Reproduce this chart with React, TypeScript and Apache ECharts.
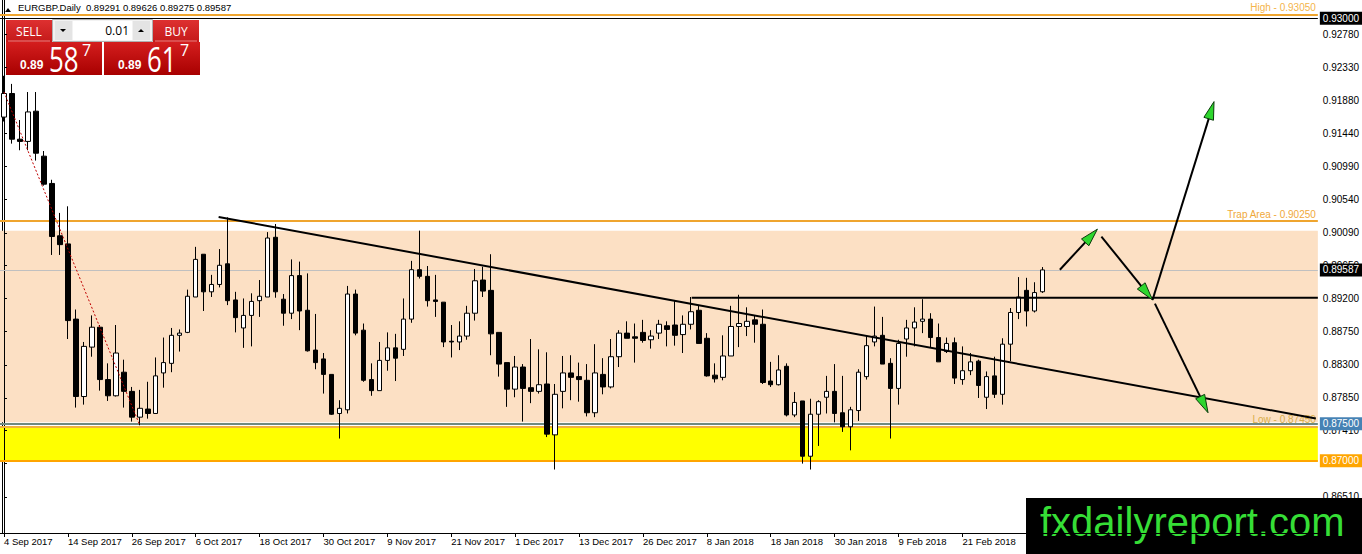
import { useEffect, useRef } from "react";
import * as echarts from "echarts";

// ---------- data ----------
const tickLabels = [
  "4 Sep 2017", "14 Sep 2017", "26 Sep 2017", "6 Oct 2017", "18 Oct 2017", "30 Oct 2017",
  "9 Nov 2017", "21 Nov 2017", "1 Dec 2017", "13 Dec 2017", "26 Dec 2017", "8 Jan 2018",
  "18 Jan 2018", "30 Jan 2018", "9 Feb 2018", "21 Feb 2018",
];
const BARS_PER_TICK = 8;
const TOTAL_SLOTS = 165; // daily slots incl. empty future space

const opens = [
  0.9166, 0.9198, 0.9136, 0.9133, 0.9174, 0.9113, 0.9076, 0.9005, 0.8994, 0.8892,
  0.8787, 0.8854, 0.8881, 0.8810, 0.8788, 0.8820, 0.8794, 0.8759, 0.8770, 0.8764,
  0.8819, 0.8832, 0.8870, 0.8874, 0.8922, 0.8980, 0.8929, 0.8939, 0.8967, 0.8918,
  0.8880, 0.8897, 0.8917, 0.8922, 0.9003, 0.8919, 0.8900, 0.8951, 0.8904, 0.8850,
  0.8838, 0.8817, 0.8764, 0.8769, 0.8926, 0.8877, 0.8810, 0.8795, 0.8836, 0.8853,
  0.8851, 0.8892, 0.8959, 0.8950, 0.8918, 0.8915, 0.8862, 0.8861, 0.8869, 0.8900,
  0.8945, 0.8931, 0.8874, 0.8833, 0.8797, 0.8827, 0.8799, 0.8794, 0.8804, 0.8735,
  0.8794, 0.8819, 0.8814, 0.8809, 0.8765, 0.8817, 0.8800, 0.8841, 0.8873, 0.8868,
  0.8874, 0.8864, 0.8873, 0.8883, 0.8884, 0.8871, 0.8885, 0.8904, 0.8866, 0.8816,
  0.8813, 0.8842, 0.8882, 0.8882, 0.8891, 0.8885, 0.8808, 0.8803, 0.8828, 0.8762,
  0.8781, 0.8706, 0.8763, 0.8786, 0.8794, 0.8765, 0.8746, 0.8768, 0.8814, 0.8861,
  0.8870, 0.8832, 0.8798, 0.8865, 0.8880, 0.8889, 0.8892, 0.8867, 0.8848, 0.8860,
  0.8810, 0.8822, 0.8835, 0.8786, 0.8815, 0.8790, 0.8858, 0.8901, 0.8931, 0.8903,
  0.89291,
];
const highs = [
  0.9222, 0.9211, 0.9162, 0.9200, 0.9200, 0.9120, 0.9081, 0.9036, 0.9045, 0.8905,
  0.8861, 0.8897, 0.8884, 0.8832, 0.8884, 0.8837, 0.8800, 0.8796, 0.8807, 0.8840,
  0.8867, 0.8880, 0.8878, 0.8932, 0.8990, 0.8980, 0.8952, 0.8987, 0.9030, 0.8929,
  0.8920, 0.8927, 0.8945, 0.9010, 0.9021, 0.8926, 0.8973, 0.8970, 0.8954, 0.8899,
  0.8846, 0.8817, 0.8782, 0.8937, 0.8932, 0.8886, 0.8832, 0.8861, 0.8874, 0.8872,
  0.8920, 0.8971, 0.9012, 0.8964, 0.8952, 0.8915, 0.8884, 0.8889, 0.8910, 0.8960,
  0.8963, 0.8980, 0.8874, 0.8833, 0.8842, 0.8831, 0.8865, 0.8851, 0.8847, 0.8804,
  0.8842, 0.8843, 0.8833, 0.8831, 0.8858, 0.8839, 0.8865, 0.8877, 0.8889, 0.8886,
  0.8891, 0.8877, 0.8891, 0.8889, 0.8917, 0.8897, 0.8922, 0.8910, 0.8873, 0.8832,
  0.8870, 0.8910, 0.8925, 0.8908, 0.8897, 0.8905, 0.8834, 0.8843, 0.8832, 0.8793,
  0.8781, 0.8784, 0.8782, 0.8815, 0.8831, 0.8815, 0.8773, 0.8824, 0.8870, 0.8909,
  0.8895, 0.8839, 0.8864, 0.8891, 0.8908, 0.8919, 0.8900, 0.8886, 0.8867, 0.8867,
  0.8855, 0.8846, 0.8837, 0.8821, 0.8841, 0.8866, 0.8907, 0.8949, 0.8948, 0.8942,
  0.89626,
];
const lows = [
  0.9160, 0.9130, 0.9121, 0.9121, 0.9107, 0.9073, 0.8979, 0.8979, 0.8865, 0.8772,
  0.8776, 0.8841, 0.8795, 0.8781, 0.8787, 0.8772, 0.8753, 0.8748, 0.8757, 0.8764,
  0.8799, 0.8820, 0.8848, 0.8873, 0.8922, 0.8903, 0.8922, 0.8935, 0.8911, 0.8874,
  0.8853, 0.8855, 0.8895, 0.8922, 0.8921, 0.8883, 0.8892, 0.8877, 0.8848, 0.8824,
  0.8791, 0.8762, 0.8730, 0.8764, 0.8870, 0.8807, 0.8788, 0.8795, 0.8822, 0.8808,
  0.8842, 0.8887, 0.8947, 0.8909, 0.8895, 0.8854, 0.8840, 0.8850, 0.8864, 0.8890,
  0.8922, 0.8843, 0.8814, 0.8773, 0.8786, 0.8753, 0.8778, 0.8791, 0.8732, 0.8688,
  0.8771, 0.8782, 0.8780, 0.8760, 0.8759, 0.8790, 0.8798, 0.8827, 0.8866, 0.8833,
  0.8860, 0.8852, 0.8865, 0.8855, 0.8856, 0.8846, 0.8878, 0.8859, 0.8814, 0.8806,
  0.8809, 0.8842, 0.8854, 0.8869, 0.8860, 0.8804, 0.8800, 0.8802, 0.8760, 0.8759,
  0.8696, 0.8688, 0.8720, 0.8764, 0.8752, 0.8739, 0.8714, 0.8754, 0.8810, 0.8855,
  0.8831, 0.8730, 0.8776, 0.8841, 0.8855, 0.8873, 0.8854, 0.8834, 0.8846, 0.8804,
  0.8803, 0.8816, 0.8785, 0.8770, 0.8785, 0.8776, 0.8835, 0.8892, 0.8882, 0.8901,
  0.89275,
];
const closes = [
  0.9198, 0.9136, 0.9133, 0.9173, 0.9117, 0.9075, 0.9004, 0.8993, 0.8890, 0.8787,
  0.8855, 0.8881, 0.8810, 0.8788, 0.8846, 0.8794, 0.8759, 0.8771, 0.8764, 0.8815,
  0.8833, 0.8870, 0.8873, 0.8923, 0.8973, 0.8929, 0.8939, 0.8965, 0.8917, 0.8894,
  0.8897, 0.8916, 0.8923, 0.9002, 0.8929, 0.8900, 0.8951, 0.8903, 0.8849, 0.8833,
  0.8817, 0.8763, 0.8771, 0.8926, 0.8873, 0.8809, 0.8795, 0.8836, 0.8853, 0.8839,
  0.8892, 0.8959, 0.8950, 0.8917, 0.8916, 0.8861, 0.8861, 0.8869, 0.8900, 0.8944,
  0.8930, 0.8872, 0.8831, 0.8797, 0.8827, 0.8798, 0.8794, 0.8803, 0.8736, 0.8790,
  0.8819, 0.8813, 0.8810, 0.8765, 0.8819, 0.8800, 0.8841, 0.8873, 0.8866, 0.8866,
  0.8863, 0.8869, 0.8885, 0.8878, 0.8870, 0.8885, 0.8902, 0.8859, 0.8815, 0.8811,
  0.8842, 0.8882, 0.8886, 0.8889, 0.8885, 0.8806, 0.8803, 0.8823, 0.8762, 0.8779,
  0.8706, 0.8763, 0.8780, 0.8794, 0.8764, 0.8746, 0.8769, 0.8820, 0.8856, 0.8869,
  0.8831, 0.8798, 0.8859, 0.8880, 0.8888, 0.8892, 0.8867, 0.8834, 0.8859, 0.8812,
  0.8822, 0.8834, 0.8802, 0.8814, 0.8790, 0.8858, 0.8901, 0.8922, 0.8903, 0.8928,
  0.89587,
];

const priceTicks = [
  0.8651, 0.8696, 0.8741, 0.8785, 0.883, 0.8875, 0.892, 0.8965, 0.9009, 0.9054,
  0.9099, 0.9144, 0.9188, 0.9233, 0.9278,
];
const Y_MIN = 0.86019;
const Y_MAX = 0.93248;

// drawn objects, in (bar index, price)
const trendLine = [[26.875, 0.90305], [164.25, 0.87572]];
const resistanceLine = [[86.1, 0.8921], [164.5, 0.8921]];
const zigzagLine = [[0, 0.92], [17, 0.8748]];
const arrowLines = [
  [132.2, 0.8959, 136.9, 0.9014],
  [137.4, 0.9004, 143.8, 0.8918],
  [143.8, 0.8918, 151.5, 0.9187],
  [144.1, 0.8913, 150.75, 0.8765],
];

const highLevel = 0.9305;
const roundLevel = 0.93;
const trapLevel = 0.9025;
const bidPrice = 0.89587;
const supportLevel = 0.875;
const lowLevel = 0.8746;
const floorLevel = 0.87;
const peachZone = [0.9012, 0.8752];
const yellowZone = [0.8746, 0.8699];

const headerText = "EURGBP.Daily  0.89291 0.89626 0.89275 0.89587";
const sellQuote = ["0.89", "58", "7"];
const buyQuote = ["0.89", "61", "7"];
const lotSize = "0.01";
const watermark = "fxdailyreport.com";

const FONT = "'Liberation Sans', Arial, sans-serif";

function fmt5(v: number) {
  return Number(v).toFixed(5);
}

function boxLabel(bg: string, value: number) {
  return {
    show: true,
    position: "end",
    distance: 2,
    formatter: fmt5(value),
    color: "#fff",
    backgroundColor: bg,
    padding: [2, 3, 1, 3],
    fontSize: 10,
    fontFamily: FONT,
  };
}

function topText(text: string, color: string) {
  return {
    show: true,
    position: "insideEndTop",
    distance: 2,
    formatter: text,
    color,
    fontSize: 10,
    fontFamily: FONT,
  };
}

function redGrad(top: string, bottom: string) {
  return {
    type: "linear",
    x: 0,
    y: 0,
    x2: 0,
    y2: 1,
    colorStops: [
      { offset: 0, color: top },
      { offset: 1, color: bottom },
    ],
  };
}

function quotePanel(x: number, q: string[]) {
  return [
    { type: "rect", shape: { x, y: 42, width: 96, height: 33 }, style: { fill: redGrad("#D41E1E", "#A80000") } },
    {
      type: "text",
      x: x + 14,
      y: 65,
      style: { text: q[0], fill: "#fff", font: `bold 12px ${FONT}`, verticalAlign: "middle", align: "left" },
    },
    {
      type: "text",
      x: x + 43,
      y: 58,
      scaleX: 0.74,
      style: { text: q[1], fill: "#fff", font: `35px 'Open Sans', sans-serif`, verticalAlign: "middle", align: "left" },
    },
    {
      type: "text",
      x: x + 76,
      y: 50,
      style: { text: q[2], fill: "#fff", font: `16px 'Open Sans', sans-serif`, verticalAlign: "middle", align: "left" },
    },
  ];
}

export default function App() {
  const ref = useRef<HTMLDivElement>(null);

  useEffect(() => {
    if (!ref.current) return;
    const chart = echarts.init(ref.current, undefined, { renderer: "svg" });

    const categories = Array.from({ length: TOTAL_SLOTS }, (_, i) => String(i));
    const candles = opens.map((o, i) => [o, closes[i], lows[i], highs[i]]);
    const showTick = (idx: number) =>
      idx % BARS_PER_TICK === 0 && idx / BARS_PER_TICK < tickLabels.length;

    const option: any = {
      animation: false,
      backgroundColor: "#fff",
      grid: { left: 0, right: 44, top: 0, bottom: 21, containLabel: false },
      xAxis: [
        {
          type: "category",
          data: categories,
          boundaryGap: true,
          axisLine: { show: true, onZero: false, lineStyle: { color: "#000", width: 1 } },
          axisTick: {
            show: true,
            alignWithLabel: true,
            interval: (idx: number) => showTick(idx),
            length: 4,
            lineStyle: { color: "#000" },
          },
          axisLabel: {
            show: true,
            interval: (idx: number) => showTick(idx),
            formatter: (_v: string, idx: number) =>
              idx % BARS_PER_TICK === 0 ? tickLabels[idx / BARS_PER_TICK] ?? "" : "",
            align: "left",
            margin: 3,
            color: "#000",
            fontSize: 9.5,
            fontFamily: FONT,
            hideOverlap: false,
          },
          splitLine: { show: false },
        },
        {
          type: "value",
          min: -0.5,
          max: TOTAL_SLOTS - 0.5,
          show: false,
        },
      ],
      yAxis: [
        {
          type: "value",
          position: "right",
          min: Y_MIN,
          max: Y_MAX,
          z: 1.2,
          axisLine: { show: true, lineStyle: { color: "#000", width: 1 } },
          axisTick: {
            show: true,
            length: 3,
            customValues: priceTicks,
            lineStyle: { color: "#000" },
          },
          axisLabel: {
            show: true,
            customValues: priceTicks,
            formatter: (v: number) => fmt5(v),
            margin: 5,
            color: "#000",
            fontSize: 10,
            fontFamily: FONT,
          },
          splitLine: { show: false },
        },
      ],
      series: [
        {
          name: "levels",
          type: "line",
          xAxisIndex: 1,
          yAxisIndex: 0,
          data: [[-0.5, Y_MIN]],
          showSymbol: false,
          symbol: "none",
          lineStyle: { width: 0 },
          z: 1,
          silent: true,
          markArea: {
            z: 1,
            silent: true,
            data: [
              [{ yAxis: peachZone[0], itemStyle: { color: "#FCE0C4" } }, { yAxis: peachZone[1] }],
              [{ yAxis: yellowZone[0], itemStyle: { color: "#FFFF00" } }, { yAxis: yellowZone[1] }],
            ],
          },
          markLine: {
            z: 1.5,
            silent: true,
            precision: 5,
            symbol: ["none", "none"],
            animation: false,
            data: [
              { yAxis: highLevel, lineStyle: { color: "#EFA52F", width: 2, type: "solid" }, label: topText("High - 0.93050", "#F4B44A") },
              { yAxis: roundLevel, lineStyle: { color: "#000", width: 1, type: "solid" }, label: boxLabel("#000", roundLevel) },
              { yAxis: trapLevel, lineStyle: { color: "#EFA52F", width: 2, type: "solid" }, label: topText("Trap Area - 0.90250", "#F0A83A") },
              { yAxis: bidPrice, lineStyle: { color: "#C0C0C0", width: 1, type: "solid" }, label: boxLabel("#000", bidPrice) },
              { yAxis: supportLevel, lineStyle: { color: "#6F8A80", width: 2, type: "solid" }, label: boxLabel("#4682B4", supportLevel) },
              { yAxis: lowLevel, lineStyle: { color: "#F2B23C", width: 2, type: "solid" }, label: topText("Low - 0.87450", "#D9AE4A") },
              { yAxis: floorLevel, lineStyle: { color: "#FFA500", width: 2, type: "solid" }, label: boxLabel("#FFA500", floorLevel) },
            ],
          },
        },
        {
          name: "EURGBP",
          type: "candlestick",
          xAxisIndex: 0,
          yAxisIndex: 0,
          data: candles,
          barWidth: 5,
          z: 2,
          itemStyle: {
            color: "#FFFFFF",
            color0: "#000000",
            borderColor: "#000000",
            borderColor0: "#000000",
            borderWidth: 1,
          },
        },
        {
          name: "zigzag",
          type: "line",
          xAxisIndex: 1,
          yAxisIndex: 0,
          data: zigzagLine,
          symbol: "none",
          z: 3,
          lineStyle: { color: "#C00000", width: 1, type: [2, 2] },
        },
        {
          name: "trend",
          type: "line",
          xAxisIndex: 1,
          yAxisIndex: 0,
          data: trendLine,
          symbol: "none",
          z: 3,
          lineStyle: { color: "#000", width: 2 },
        },
        {
          name: "resistance",
          type: "line",
          xAxisIndex: 1,
          yAxisIndex: 0,
          data: resistanceLine,
          symbol: "none",
          z: 3,
          lineStyle: { color: "#000", width: 2 },
        },
        {
          name: "arrows",
          type: "custom",
          xAxisIndex: 1,
          yAxisIndex: 0,
          data: arrowLines,
          clip: false,
          z: 4,
          encode: { x: [0, 2], y: [1, 3] },
          renderItem: (_params: any, api: any) => {
            const a = api.coord([api.value(0), api.value(1)]);
            const b = api.coord([api.value(2), api.value(3)]);
            const dx = b[0] - a[0];
            const dy = b[1] - a[1];
            const len = Math.hypot(dx, dy) || 1;
            const ux = dx / len;
            const uy = dy / len;
            const L = 18;
            const W = 5;
            const bx = b[0] - ux * L;
            const by = b[1] - uy * L;
            return {
              type: "group",
              children: [
                {
                  type: "line",
                  shape: { x1: a[0], y1: a[1], x2: b[0] - ux * 6, y2: b[1] - uy * 6 },
                  style: { stroke: "#000", lineWidth: 2 },
                },
                {
                  type: "polygon",
                  shape: {
                    points: [
                      [b[0], b[1]],
                      [bx - uy * W, by + ux * W],
                      [bx + uy * W, by - ux * W],
                    ],
                  },
                  style: { fill: "#2ED62E", stroke: "#0B3B0B", lineWidth: 1 },
                },
              ],
            };
          },
        },
      ],
      graphic: [
        {
          type: "group",
          z: 100,
          children: [
            // left frame
            { type: "line", shape: { x1: 2.5, y1: 0, x2: 2.5, y2: 533 }, style: { stroke: "#000", lineWidth: 1 } },
            // header
            { type: "polygon", shape: { points: [[5, 12], [11, 12], [8, 8]] }, style: { fill: "#000" } },
            {
              type: "text",
              x: 18,
              y: 7,
              style: { text: headerText, fill: "#000", font: `9.5px ${FONT}`, verticalAlign: "middle", align: "left" },
            },
            // SELL / lot / BUY bar
            { type: "rect", shape: { x: 6, y: 20, width: 46, height: 22 }, style: { fill: redGrad("#DE3030", "#C41A1A") } },
            { type: "line", shape: { x1: 8, y1: 41, x2: 50, y2: 41 }, style: { stroke: "#F08080", lineWidth: 1 } },
            {
              type: "text",
              x: 29,
              y: 31,
              style: { text: "SELL", fill: "#fff", font: `12px 'Open Sans', sans-serif`, verticalAlign: "middle", align: "center" },
            },
            { type: "rect", shape: { x: 52.5, y: 19.5, width: 100, height: 22 }, style: { fill: "#F2F2F2", stroke: "#B0B0B0", lineWidth: 1 } },
            { type: "rect", shape: { x: 55, y: 21, width: 17, height: 19 }, style: { fill: "#E4E4E4" } },
            { type: "polygon", shape: { points: [[60, 29], [66, 29], [63, 32]] }, style: { fill: "#000" } },
            { type: "rect", shape: { x: 73, y: 21, width: 59, height: 19 }, style: { fill: "#fff" } },
            {
              type: "text",
              x: 129,
              y: 30.5,
              style: { text: lotSize, fill: "#000", font: `12px 'Open Sans', sans-serif`, verticalAlign: "middle", align: "right" },
            },
            { type: "rect", shape: { x: 133, y: 21, width: 17, height: 19 }, style: { fill: "#E4E4E4" } },
            { type: "polygon", shape: { points: [[138, 32], [144, 32], [141, 29]] }, style: { fill: "#000" } },
            { type: "rect", shape: { x: 153, y: 20, width: 46, height: 22 }, style: { fill: redGrad("#DE3030", "#C41A1A") } },
            { type: "line", shape: { x1: 155, y1: 41, x2: 197, y2: 41 }, style: { stroke: "#F08080", lineWidth: 1 } },
            {
              type: "text",
              x: 176,
              y: 31,
              style: { text: "BUY", fill: "#fff", font: `12px 'Open Sans', sans-serif`, verticalAlign: "middle", align: "center" },
            },
            ...quotePanel(6, sellQuote),
            ...quotePanel(104, buyQuote),
            // watermark
            { type: "rect", shape: { x: 1026, y: 498, width: 336, height: 56 }, style: { fill: "#000" } },
            {
              type: "text",
              x: 1040,
              y: 522,
              style: { text: watermark, fill: "#36DE36", font: `40px ${FONT}`, verticalAlign: "middle", align: "left" },
            },
          ],
        },
      ],
    };

    chart.setOption(option);
    return () => {
      chart.dispose();
    };
  }, []);

  return (
    <div
      ref={ref}
      style={{ position: "absolute", left: 0, top: 0, width: 1362, height: 554, background: "#fff" }}
    />
  );
}
